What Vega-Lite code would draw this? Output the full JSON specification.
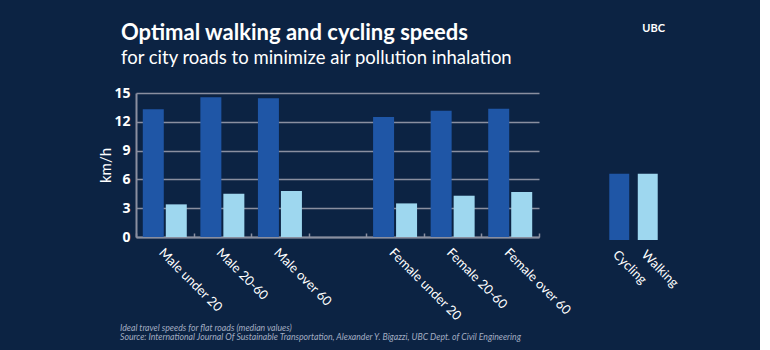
{
  "$schema": "https://vega.github.io/schema/vega-lite/v6.json",
  "background": "#0c2343",
  "padding": {"left": 98, "top": 21, "right": 80, "bottom": 20},
  "bounds": "flush",
  "spacing": 66,
  "title": {
    "text": "Optimal walking and cycling speeds",
    "subtitle": "for city roads to minimize air pollution inhalation",
    "anchor": "start",
    "frame": "group",
    "dx": -15,
    "font": "Lato",
    "fontSize": 22,
    "fontWeight": "bold",
    "color": "#ffffff",
    "subtitleFont": "Lato",
    "subtitleFontSize": 18.5,
    "subtitleColor": "#ffffff",
    "subtitlePadding": 4,
    "offset": -45
  },
  "config": {
    "view": {"stroke": null},
    "font": "Lato"
  },
  "hconcat": [
    {
      "width": 403,
      "height": 144,
      "data": {
        "values": [
          {"group": "Male under 20", "mode": "Cycling", "speed": 13.3},
          {"group": "Male under 20", "mode": "Walking", "speed": 3.4},
          {"group": "Male 20-60", "mode": "Cycling", "speed": 14.55},
          {"group": "Male 20-60", "mode": "Walking", "speed": 4.5},
          {"group": "Male over 60", "mode": "Cycling", "speed": 14.45},
          {"group": "Male over 60", "mode": "Walking", "speed": 4.8},
          {"group": "Female under 20", "mode": "Cycling", "speed": 12.5},
          {"group": "Female under 20", "mode": "Walking", "speed": 3.5},
          {"group": "Female 20-60", "mode": "Cycling", "speed": 13.15},
          {"group": "Female 20-60", "mode": "Walking", "speed": 4.3},
          {"group": "Female over 60", "mode": "Cycling", "speed": 13.35},
          {"group": "Female over 60", "mode": "Walking", "speed": 4.7}
        ]
      },
      "title": {
        "text": [
          "Ideal travel speeds for flat roads (median values)",
          "Source: International Journal Of Sustainable Transportation, Alexander Y. Bigazzi, UBC Dept. of Civil Engineering"
        ],
        "orient": "bottom",
        "anchor": "start",
        "frame": "group",
        "dx": -16,
        "offset": 1,
        "font": "Lato",
        "fontSize": 8.7,
        "fontStyle": "italic",
        "fontWeight": "normal",
        "color": "#a3adc2",
        "lineHeight": 9.5
      },
      "mark": {"type": "bar"},
      "encoding": {
        "x": {
          "field": "group",
          "type": "nominal",
          "scale": {
            "domain": ["Male under 20", "Male 20-60", "Male over 60", " ", "Female under 20", "Female 20-60", "Female over 60"],
            "paddingInner": 0,
            "paddingOuter": 0
          },
          "axis": {
            "title": null,
            "labelAngle": 45,
            "labelAlign": "left",
            "labelBaseline": "top",
            "labelColor": "#ffffff",
            "labelFont": "Lato",
            "labelFontSize": 13,
            "labelPadding": 13,
            "domainColor": "#8a8fa0",
            "domainWidth": 2,
            "tickColor": "#8a8fa0",
            "tickWidth": 1.5,
            "tickSize": -4,
            "tickBand": "extent",
            "grid": false
          }
        },
        "xOffset": {
          "field": "mode",
          "type": "nominal",
          "scale": {"domain": ["Cycling", "Walking"], "paddingInner": 0.087, "paddingOuter": 0.295}
        },
        "y": {
          "field": "speed",
          "type": "quantitative",
          "scale": {"domain": [0, 15], "nice": false},
          "axis": {
            "title": "km/h",
            "values": [0, 3, 6, 9, 12, 15],
            "grid": true,
            "gridColor": "#8a8fa0",
            "gridWidth": 1.5,
            "ticks": false,
            "domainColor": "#8a8fa0",
            "domainWidth": 2,
            "labelColor": "#ffffff",
            "labelFont": "Open Sans",
            "labelFontSize": 14,
            "labelFontWeight": "bold",
            "labelPadding": 6,
            "titleColor": "#ffffff",
            "titleFont": "Lato",
            "titleFontSize": 15,
            "titleFontWeight": "normal",
            "titlePadding": 0
          }
        },
        "color": {
          "field": "mode",
          "type": "nominal",
          "scale": {"domain": ["Cycling", "Walking"], "range": ["#1f56a6", "#9ed7ef"]},
          "legend": null
        }
      }
    },
    {
      "width": 57,
      "height": 147,
      "data": {
        "values": [
          {"mode": "Cycling", "speed": 6.75},
          {"mode": "Walking", "speed": 6.75}
        ]
      },
      "title": {
        "text": "UBC",
        "orient": "top",
        "anchor": "end",
        "frame": "group",
        "dx": 3,
        "offset": 59,
        "font": "Lato",
        "fontSize": 11,
        "fontWeight": "bold",
        "color": "#ffffff"
      },
      "mark": {"type": "bar"},
      "encoding": {
        "x": {
          "field": "mode",
          "type": "nominal",
          "scale": {"domain": ["Cycling", "Walking"], "paddingInner": 0.3, "paddingOuter": 0.15},
          "axis": {
            "title": null,
            "domain": false,
            "ticks": false,
            "labelAngle": 45,
            "labelAlign": "left",
            "labelBaseline": "top",
            "labelColor": "#ffffff",
            "labelFont": "Lato",
            "labelFontSize": 13,
            "labelPadding": 8
          }
        },
        "y": {
          "field": "speed",
          "type": "quantitative",
          "scale": {"domain": [0, 15], "nice": false},
          "axis": null
        },
        "color": {
          "field": "mode",
          "type": "nominal",
          "scale": {"domain": ["Cycling", "Walking"], "range": ["#1f56a6", "#9ed7ef"]},
          "legend": null
        }
      }
    }
  ]
}
